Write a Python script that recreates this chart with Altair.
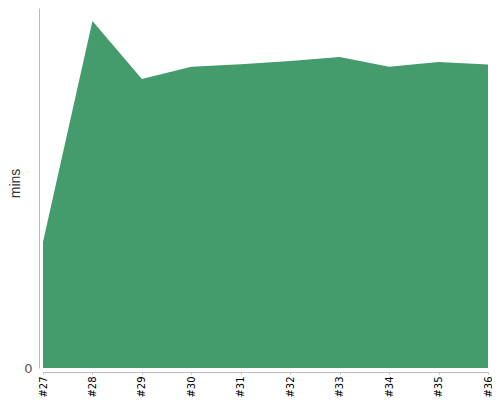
import altair as alt
import pandas as pd

builds = ["#27", "#28", "#29", "#30", "#31", "#32", "#33", "#34", "#35", "#36"]
mins = [3.5, 9.64, 8.03, 8.37, 8.44, 8.53, 8.64, 8.37, 8.5, 8.43]

df = pd.DataFrame({"build": builds, "mins": mins})

chart = alt.Chart(df).mark_area(color="#449b6c", opacity=1).encode(
    x=alt.X("build:O", sort=builds, title=None,
            scale=alt.Scale(type="point", padding=0),
            axis=alt.Axis(labelAngle=-90, labelFontSize=10, labelColor="#000",
                          labelFont="DejaVu Sans", tickSize=2, tickColor="#bbb",
                          domainColor="#bbb", offset=4, labelPadding=2)),
    y=alt.Y("mins:Q", title="mins", scale=alt.Scale(domain=[0, 10], nice=False),
            axis=alt.Axis(values=[0], grid=False, ticks=False, offset=4,
                          domainColor="#bbb", labelFontSize=13, labelColor="#555",
                          labelFont="DejaVu Sans", labelPadding=7,
                          titleFont="Liberation Sans", titleFontSize=14,
                          titleFontWeight="normal", titleColor="#333",
                          titleX=-17, titleY=175)),
).properties(
    width=445, height=360,
    autosize=alt.AutoSizeParams(type="none"),
    padding={"left": 35, "top": 0, "right": 4, "bottom": 30},
).configure_view(stroke=None)

chart.save("out.html", embed_options={"renderer": "svg", "actions": False})
